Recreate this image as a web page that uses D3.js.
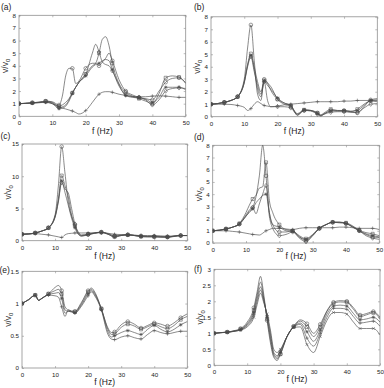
<!DOCTYPE html>
<html><head><meta charset="utf-8">
<script src="https://cdn.jsdelivr.net/npm/d3@7"></script>
<style>
body{margin:0;background:#fff}
svg{display:block}
text{font-family:"Liberation Sans",Arial,Helvetica,sans-serif;fill:#222}
</style>
</head><body>
<svg id="chart" width="384" height="388"></svg>
<script>
// ---------- data ----------
const xTicks = [0, 10, 20, 30, 40, 50];
const markerFreqs = [0, 4, 8, 12, 16, 20, 24, 28, 32, 36, 40, 44, 48];
const panelLabels = ["(a)", "(b)", "(c)", "(d)", "(e)", "(f)"];
const xLabel = "f (Hz)";

const yTicksA = [0, 1, 2, 3, 4, 5, 6, 7, 8];
const freqA = [0,2,4,6,8,10,12,13,14,15,16,17,18,20,22,23,24,25,26,27,28,30,32,34,36,38,40,42,44,46,48,50];
const aBase = [1,1.02,1.05,1.08,1.1,1.0,0.75,0.65,0.58,0.5,0.42,0.3,0.18,0.45,1.1,1.45,1.75,1.9,1.95,1.95,1.9,1.75,1.65,1.58,1.55,1.55,1.6,1.62,1.6,1.55,1.5,1.5];
const aC1 = [1,1.03,1.07,1.12,1.2,1.15,0.9,1.6,3.2,3.8,3.8,2.6,2.8,3.8,4.2,4.2,4.0,4.3,4.6,5.0,4.4,2.9,2.0,1.7,1.5,1.4,1.3,2.0,2.7,3.0,3.05,2.65];
const aC2 = [1,1.03,1.07,1.12,1.2,1.1,0.8,0.9,1.1,1.4,1.85,2.3,2.7,3.35,4.0,4.2,5.0,6.1,6.3,5.6,4.2,2.6,1.9,1.6,1.4,1.2,1.0,1.8,3.05,3.2,3.1,2.6];
const aC3 = [1,1.03,1.06,1.1,1.15,1.05,0.7,0.75,0.9,1.3,1.85,2.3,2.7,3.3,5.0,5.7,5.1,4.3,4.1,4.0,3.6,2.4,1.7,1.55,1.5,1.3,0.9,1.3,2.0,2.2,2.25,2.2];
const aC4 = [1,1.02,1.05,1.08,1.12,1.0,0.6,0.65,0.8,1.2,1.8,2.3,2.7,3.2,3.9,4.1,4.2,4.4,4.5,4.4,3.7,2.5,1.65,1.5,1.45,1.35,1.1,1.5,2.3,2.3,2.3,2.1];

const yTicksB = [0, 1, 2, 3, 4, 5, 6, 7, 8];
const freqB = [0,2,4,6,8,10,11,12,13,14,15,16,17,18,20,22,24,26,28,30,32,33,34,36,38,40,42,44,46,48,50];
const bBase = [1,1.0,1.0,0.98,0.9,0.75,0.5,0.65,1.0,1.2,1.05,0.9,0.85,0.8,0.85,0.95,1.0,1.05,1.1,1.15,1.2,1.2,1.2,1.2,1.2,1.25,1.25,1.3,1.3,1.3,1.3];
const bC1 = [1,1.05,1.15,1.3,1.6,3.0,5.5,7.35,4.5,1.8,1.3,3.0,2.7,2.1,1.4,1.1,0.9,0.2,0.5,0.5,0.3,0.1,0.2,0.5,0.45,0.5,0.4,0.3,0.8,1.35,1.45];
const bC2 = [1,1.05,1.15,1.3,1.6,2.8,4.2,5.05,4.0,2.8,2.0,2.9,2.7,2.4,1.4,1.0,0.8,0.25,0.55,0.5,0.3,0.15,0.3,0.6,0.5,0.45,0.4,0.6,1.0,1.25,1.2];
const bC3 = [1,1.05,1.15,1.3,1.6,2.7,4.0,4.8,3.6,2.5,1.8,2.8,1.3,0.8,0.8,0.8,0.7,0.15,0.5,0.45,0.2,0.05,0.2,0.35,0.4,0.4,0.35,0.35,0.7,1.0,1.05];
const bC4 = [1,1.05,1.15,1.3,1.6,2.75,4.1,4.9,3.8,2.2,1.6,2.85,2.5,2.2,1.5,1.1,0.9,0.1,0.55,0.5,0.25,0.1,0.25,0.45,0.5,0.5,0.45,0.5,0.9,1.3,1.35];

const yTicksC = [0, 5, 10, 15];
const freqC = [0,2,4,6,8,10,11,12,13,14,15,16,17,18,20,22,24,26,28,30,32,34,36,38,40,42,44,46,48,50];
const cBase = [1,1.05,1.1,1.0,0.9,0.7,0.6,0.5,0.9,1.1,1.15,1.2,1.2,1.2,1.2,1.25,1.3,1.15,1.0,0.95,0.9,0.85,0.8,0.8,0.8,0.75,0.7,0.75,0.8,0.8];
const cC1 = [1,1.05,1.2,1.5,2.0,4.0,8.5,14.6,10.5,6.0,3.8,2.5,1.4,0.9,1.0,1.2,1.35,1.0,0.6,0.8,0.9,0.8,0.65,0.6,0.6,0.55,0.55,0.7,0.8,0.8];
const cC2 = [1,1.05,1.2,1.5,2.0,3.8,6.5,10.1,8.5,6.8,4.0,2.3,1.2,0.8,1.0,1.2,1.3,1.05,0.7,0.85,0.9,0.8,0.7,0.65,0.65,0.6,0.6,0.7,0.8,0.8];
const cC3 = [1,1.05,1.2,1.5,2.0,3.6,6.0,9.0,8.0,7.4,5.0,2.6,1.1,0.7,0.95,1.15,1.3,1.1,0.8,0.85,0.95,0.85,0.75,0.7,0.7,0.65,0.6,0.7,0.8,0.8];
const cC4 = [1,1.05,1.2,1.5,2.0,3.7,6.2,9.3,7.5,5.5,3.5,2.0,1.0,0.75,0.95,1.15,1.25,1.0,0.55,0.8,0.9,0.8,0.6,0.6,0.6,0.55,0.5,0.65,0.8,0.8];

const yTicksD = [0, 1, 2, 3, 4, 5, 6, 7, 8];
const freqD = [0,2,4,6,8,10,11,12,13,14,15,16,17,18,20,22,24,26,28,30,32,34,36,38,40,42,44,46,48,50];
const dBase = [1,1.0,1.0,0.95,0.9,0.8,0.75,0.7,0.68,0.65,0.8,1.0,1.1,1.2,1.2,1.15,1.1,1.2,1.25,1.25,1.25,1.25,1.25,1.3,1.3,1.25,1.2,1.2,1.2,1.1];
const dC1 = [1,1.05,1.15,1.3,1.55,2.2,2.6,2.9,3.8,5.5,8.0,5.5,2.5,1.5,0.9,0.9,1.0,0.5,0.2,0.6,1.2,1.5,1.7,1.7,1.6,1.3,1.0,0.7,0.5,0.45];
const dC2 = [1,1.05,1.15,1.3,1.6,2.5,3.1,3.6,3.9,4.5,4.6,6.6,3.5,2.5,1.5,1.1,1.0,0.6,0.35,0.7,1.2,1.5,1.7,1.7,1.65,1.4,1.05,0.85,0.75,0.6];
const dC3 = [1,1.05,1.15,1.3,1.55,2.3,2.7,2.9,2.4,3.2,4.0,4.7,2.2,1.2,0.6,0.7,0.9,0.4,0.1,0.6,1.2,1.5,1.7,1.65,1.6,1.3,1.0,0.6,0.4,0.3];
const dC4 = [1,1.05,1.15,1.3,1.55,2.2,2.5,2.8,3.3,3.6,3.9,4.0,2.5,1.5,1.3,1.0,0.95,0.5,0.3,0.65,1.2,1.5,1.7,1.7,1.6,1.35,1.0,0.75,0.6,0.5];

const yTicksE = [0, 0.5, 1, 1.5];
const freqE = [0,2,4,5,6,8,10,11,12,13,14,16,18,20,21,22,24,26,27,28,30,32,34,36,38,40,42,44,46,48,50];
const eC1 = [1.0,1.06,1.13,1.05,1.08,1.15,1.25,1.28,1.2,0.95,0.9,0.88,1.02,1.2,1.24,1.18,0.92,0.62,0.55,0.56,0.67,0.72,0.68,0.62,0.66,0.7,0.68,0.65,0.7,0.78,0.84];
const eC2 = [1.0,1.06,1.13,1.05,1.08,1.15,1.2,1.22,1.15,0.9,0.88,0.87,1.0,1.18,1.22,1.16,0.92,0.6,0.52,0.53,0.63,0.68,0.65,0.6,0.64,0.68,0.64,0.61,0.66,0.75,0.8];
const eC3 = [1.0,1.06,1.13,1.05,1.08,1.14,1.16,1.17,1.08,0.85,0.88,0.86,0.98,1.15,1.2,1.14,0.91,0.56,0.48,0.5,0.55,0.58,0.55,0.52,0.6,0.66,0.6,0.56,0.6,0.67,0.72];
const eC4 = [1.0,1.06,1.13,1.05,1.08,1.13,1.12,1.1,0.95,0.8,0.9,0.85,0.96,1.12,1.18,1.12,0.9,0.52,0.45,0.44,0.48,0.5,0.47,0.45,0.52,0.58,0.55,0.53,0.55,0.57,0.57];

const yTicksF = [0, 0.5, 1, 1.5, 2, 2.5, 3];
const freqF = [0,2,4,6,8,10,12,13,14,15,16,17,18,19,20,22,24,26,28,30,32,34,36,38,40,42,44,46,48,50];
const fC1 = [1.0,1.02,1.04,1.08,1.15,1.35,1.8,2.3,2.78,2.2,1.4,0.7,0.25,0.15,0.35,0.9,1.22,1.42,1.3,1.0,1.28,1.7,1.97,2.02,2.0,1.8,1.57,1.62,1.68,1.5];
const fC2 = [1.0,1.02,1.04,1.07,1.13,1.3,1.72,2.2,2.6,2.1,1.45,0.8,0.3,0.2,0.35,0.9,1.21,1.38,1.2,0.9,1.2,1.68,1.93,1.98,1.97,1.75,1.52,1.58,1.64,1.45];
const fC3 = [1.0,1.02,1.03,1.07,1.12,1.27,1.65,2.1,2.45,2.05,1.5,0.9,0.35,0.25,0.4,0.9,1.2,1.32,1.05,0.75,1.1,1.6,1.85,1.88,1.85,1.62,1.42,1.45,1.5,1.35];
const fC4 = [1.0,1.02,1.03,1.06,1.11,1.24,1.58,2.0,2.35,2.0,1.55,1.0,0.4,0.3,0.45,0.9,1.2,1.28,0.85,0.6,1.0,1.5,1.78,1.78,1.75,1.52,1.32,1.35,1.38,1.22];
const fC5 = [1.0,1.02,1.03,1.06,1.1,1.2,1.5,1.9,2.25,1.95,1.6,1.1,0.5,0.4,0.5,0.9,1.18,1.2,0.65,0.4,0.9,1.4,1.65,1.65,1.6,1.35,1.15,1.15,1.15,0.95];

// ---------- layout ----------
const panels = [
  {label: panelLabels[0], freq: freqA, series: [aBase, aC1, aC2, aC3, aC4], yTicks: yTicksA, box: {l: 19, r: 185.7, t: 15.3, b: 116.3}, lab: {x: 1, y: 10}, xl: 134},
  {label: panelLabels[1], freq: freqB, series: [bBase, bC1, bC2, bC3, bC4], yTicks: yTicksB, box: {l: 211, r: 377.3, t: 16.8, b: 116.7}, lab: {x: 194, y: 10}, xl: 134},
  {label: panelLabels[2], freq: freqC, series: [cBase, cC1, cC2, cC3, cC4], yTicks: yTicksC, box: {l: 22, r: 187.3, t: 144, b: 240.7}, lab: {x: 0.5, y: 139}, xl: 258.5},
  {label: panelLabels[3], freq: freqD, series: [dBase, dC1, dC2, dC3, dC4], yTicks: yTicksD, box: {l: 212.7, r: 379.3, t: 145.3, b: 243}, lab: {x: 194, y: 140}, xl: 258.5},
  {label: panelLabels[4], freq: freqE, series: [eC1, eC2, eC3, eC4], yTicks: yTicksE, box: {l: 22, r: 187.3, t: 271.3, b: 368}, lab: {x: -0.5, y: 272.5}, xl: 385},
  {label: panelLabels[5], freq: freqF, series: [fC1, fC2, fC3, fC4, fC5], yTicks: yTicksF, box: {l: 214, r: 380, t: 269.3, b: 365.3}, lab: {x: 194, y: 272}, xl: 382}
];
const symbols = ["plus", "circle", "square", "diamond", "star"];
const symbolsEF = ["circle", "square", "star", "plus", "times"];

const svg = d3.select("#chart");
const lineColor = "#4a4a4a";
const frameColor = "#8f8f8f";

function markerPath(type, s) {
  const p = d3.path();
  if (type === "plus") { p.moveTo(-s, 0); p.lineTo(s, 0); p.moveTo(0, -s); p.lineTo(0, s); }
  else if (type === "times") { const k = s * 0.75; p.moveTo(-k, -k); p.lineTo(k, k); p.moveTo(-k, k); p.lineTo(k, -k); }
  else if (type === "star") { const k = s * 0.75; p.moveTo(-s, 0); p.lineTo(s, 0); p.moveTo(0, -s); p.lineTo(0, s); p.moveTo(-k, -k); p.lineTo(k, k); p.moveTo(-k, k); p.lineTo(k, -k); }
  else if (type === "square") { const k = s * 0.85; p.rect(-k, -k, 2 * k, 2 * k); }
  else if (type === "diamond") { p.moveTo(0, -s * 1.2); p.lineTo(s, 0); p.lineTo(0, s * 1.2); p.lineTo(-s, 0); p.closePath(); }
  else { p.moveTo(s, 0); p.arc(0, 0, s, 0, 2 * Math.PI); }
  return p.toString();
}

panels.forEach((P, pi) => {
  const {l, r, t, b} = P.box;
  const yMax = P.yTicks[P.yTicks.length - 1];
  const x = d3.scaleLinear().domain([0, 50]).range([l, r]);
  const y = d3.scaleLinear().domain([0, yMax]).range([b, t]);
  const g = svg.append("g");
  const fmt = d3.format("~g");

  // frame
  g.append("rect").attr("x", l).attr("y", t).attr("width", r - l).attr("height", b - t)
    .attr("fill", "none").attr("stroke", frameColor).attr("stroke-width", 0.8);

  // axes (inward ticks)
  const ax = g.append("g").attr("transform", `translate(0,${b})`)
    .call(d3.axisBottom(x).tickValues(xTicks).tickFormat(fmt).tickSizeInner(-2).tickSizeOuter(0).tickPadding(4.5));
  const axT = g.append("g").attr("transform", `translate(0,${t})`)
    .call(d3.axisTop(x).tickValues(xTicks).tickFormat("").tickSizeInner(-2).tickSizeOuter(0));
  const ay = g.append("g").attr("transform", `translate(${l},0)`)
    .call(d3.axisLeft(y).tickValues(P.yTicks).tickFormat(fmt).tickSizeInner(-2).tickSizeOuter(0).tickPadding(3));
  const ayR = g.append("g").attr("transform", `translate(${r},0)`)
    .call(d3.axisRight(y).tickValues(P.yTicks).tickFormat("").tickSizeInner(-2).tickSizeOuter(0));
  [ax, axT, ay, ayR].forEach(a => {
    a.select(".domain").remove();
    a.selectAll(".tick line").attr("stroke", frameColor).attr("stroke-width", 0.6);
    a.selectAll(".tick text").attr("font-size", 6.2).attr("fill", "#333")
      .style("font-family", '"Liberation Sans", Arial, sans-serif');
  });

  // clip
  const cid = "clip" + pi;
  svg.append("clipPath").attr("id", cid).append("rect")
    .attr("x", l).attr("y", t - 2).attr("width", r - l).attr("height", b - t + 4);

  const line = d3.line().x(d => x(d[0])).y(d => y(d[1])).curve(d3.curveMonotoneX);
  const syms = pi >= 4 ? symbolsEF : symbols;
  const plot = g.append("g").attr("clip-path", `url(#${cid})`);
  P.series.forEach((vals, si) => {
    const pts = P.freq.map((f, i) => [f, vals[i]]);
    plot.append("path").attr("d", line(pts)).attr("fill", "none")
      .attr("stroke", lineColor).attr("stroke-width", 0.65);
    const mk = pts.filter(p => markerFreqs.includes(p[0]));
    plot.selectAll(null).data(mk).enter().append("path")
      .attr("transform", d => `translate(${x(d[0])},${y(d[1])})`)
      .attr("d", markerPath(syms[si % syms.length], 1.8))
      .attr("fill", "none").attr("stroke", lineColor).attr("stroke-width", 0.55);
  });

  // labels
  svg.append("text").attr("x", P.lab.x).attr("y", P.lab.y).attr("font-size", 8.5).text(P.label);
  svg.append("text").attr("x", (l + r) / 2).attr("y", P.xl).attr("text-anchor", "middle")
    .attr("font-size", 8.5).text(xLabel);
  const yl = svg.append("text").attr("transform", `translate(${l - 11},${(t + b) / 2}) rotate(-90)`)
    .attr("text-anchor", "middle").attr("font-size", 8.5);
  yl.append("tspan").text("v/v");
  yl.append("tspan").attr("font-size", 6).attr("dy", 2).text("0");
});
</script>
</body></html>
